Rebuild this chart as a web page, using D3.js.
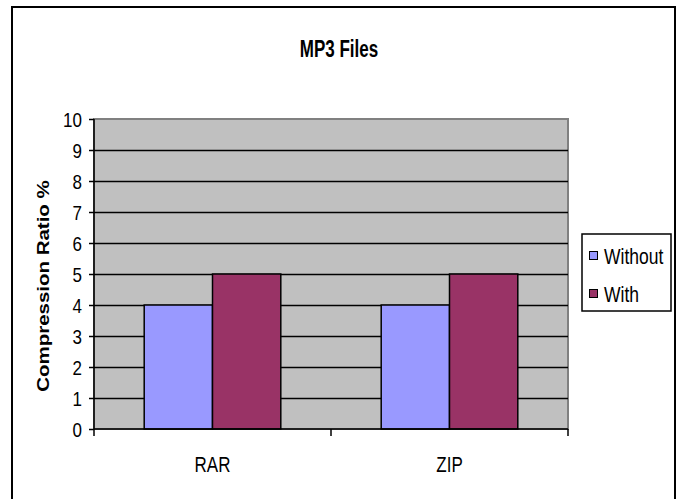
<!DOCTYPE html>
<html><head><meta charset="utf-8">
<script src="https://cdn.jsdelivr.net/npm/d3@7/dist/d3.min.js"></script>
<style>html,body{margin:0;padding:0;background:#fff;}svg{display:block;}</style>
</head><body>
<script>
const categories = ["RAR", "ZIP"];
const seriesNames = ["Without", "With"];
const withoutValues = [4, 4];
const withValues = [5, 5];
const yTicks = [0,1,2,3,4,5,6,7,8,9,10];
const colors = ["#9999FF", "#993366"];

(function(){
const W = 678, H = 499;
const svg = d3.select("body").append("svg").attr("width", W).attr("height", H);
const FONT = "'Liberation Sans', Arial, sans-serif";
const SY = 1.2;

// outer frame
svg.append("rect").attr("x", 12).attr("y", 7).attr("width", 663).attr("height", 500)
  .attr("fill", "#fff").attr("stroke", "#000").attr("stroke-width", 2);

const pL = 94, pR = 568, pT = 119, pB = 429;
const x = d3.scaleBand().domain(categories).range([pL, pR]);
const y = d3.scaleLinear().domain([0, 10]).range([pB, pT]);
const xs = d3.scaleBand().domain(seriesNames).range([0, x.bandwidth()]).paddingOuter(0.735).paddingInner(0);

// title
svg.append("text").attr("transform", `translate(${W/2},57) scale(1,1.4)`)
  .attr("text-anchor", "middle").attr("font-family", FONT).attr("font-weight", "bold")
  .attr("font-size", 17).text("MP3 Files");

// plot background
svg.append("rect").attr("x", pL).attr("y", pT).attr("width", pR - pL).attr("height", pB - pT)
  .attr("fill", "#C0C0C0").attr("stroke", "#808080").attr("stroke-width", 2);

// gridlines
svg.append("g").selectAll("line").data(yTicks.filter(d => d > 0 && d < 10)).join("line")
  .attr("x1", pL).attr("x2", pR).attr("y1", d => Math.round(y(d)) + 0.5).attr("y2", d => Math.round(y(d)) + 0.5)
  .attr("stroke", "#000").attr("stroke-width", 1.5);

// bars
const data = [];
categories.forEach((c, i) => {
  data.push({c, s: "Without", v: withoutValues[i], col: colors[0]});
  data.push({c, s: "With", v: withValues[i], col: colors[1]});
});
svg.append("g").selectAll("rect").data(data).join("rect")
  .attr("x", d => x(d.c) + xs(d.s)).attr("width", xs.bandwidth())
  .attr("y", d => y(d.v)).attr("height", d => y(0) - y(d.v))
  .attr("fill", d => d.col).attr("stroke", "#000").attr("stroke-width", 1.5);

// y axis
const yAxis = svg.append("g").attr("transform", `translate(${pL},0)`)
  .call(d3.axisLeft(y).tickValues(yTicks).tickSize(5).tickPadding(0).tickFormat(d3.format("d")));
yAxis.select(".domain").attr("stroke", "#000").attr("stroke-width", 1.5).attr("d", `M0,${pT}V${pB}`);
yAxis.selectAll(".tick line").attr("stroke", "#000").attr("stroke-width", 1.5);
yAxis.selectAll(".tick text").attr("x", null).attr("dy", null)
  .attr("font-family", FONT).attr("font-size", 17).attr("fill", "#000").attr("text-anchor", "end")
  .attr("transform", `translate(-12,7) scale(1,${SY})`);

// x axis
const xAxis = svg.append("g").attr("transform", `translate(0,${pB})`)
  .call(d3.axisBottom(x).tickSize(0).tickPadding(0));
xAxis.select(".domain").attr("stroke", "#000").attr("stroke-width", 1.5).attr("d", `M${pL},0H${pR}`);
xAxis.selectAll(".tick text").attr("y", null).attr("dy", null)
  .attr("font-family", FONT).attr("font-size", 17).attr("fill", "#000")
  .attr("transform", `translate(0,43) scale(1,1.3)`);
const sepTicks = [pL].concat(categories.map(c => x(c) + x.bandwidth()));
xAxis.append("g").selectAll("line").data(sepTicks).join("line")
  .attr("x1", d => d).attr("x2", d => d).attr("y1", 0).attr("y2", 7)
  .attr("stroke", "#000").attr("stroke-width", 1.5);

// y axis title
svg.append("text").attr("transform", `translate(49,286) rotate(-90) scale(1.28,1)`)
  .attr("text-anchor", "middle").attr("font-family", FONT).attr("font-weight", "bold")
  .attr("font-size", 16).text("Compression Ratio %");

// legend
const lg = svg.append("g");
lg.append("rect").attr("x", 582).attr("y", 234).attr("width", 89).attr("height", 77)
  .attr("fill", "#fff").attr("stroke", "#000").attr("stroke-width", 1.5);
seriesNames.forEach((s, i) => {
  const cy = 256 + i * 38;
  lg.append("rect").attr("x", 589.5).attr("y", cy - 4.5).attr("width", 8).attr("height", 8)
    .attr("fill", colors[i]).attr("stroke", "#000").attr("stroke-width", 1);
  lg.append("text").attr("transform", `translate(604,${cy + 8}) scale(1,1.25)`)
    .attr("font-family", FONT).attr("font-size", 17.5).attr("fill", "#000").text(s);
});
})();
</script>
</body></html>
